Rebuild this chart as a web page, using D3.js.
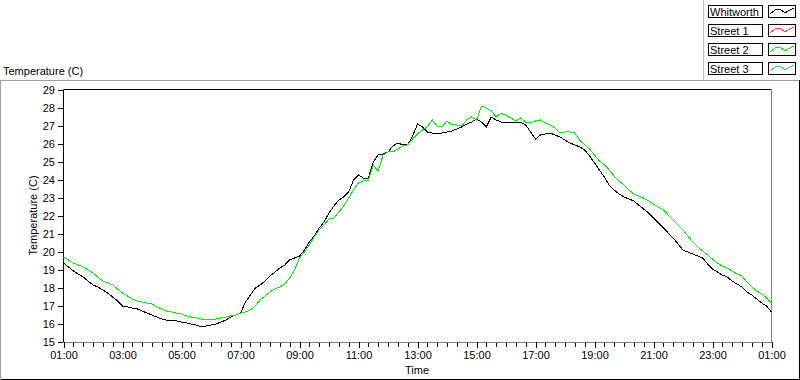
<!DOCTYPE html>
<html><head><meta charset="utf-8">
<script src="https://cdn.jsdelivr.net/npm/d3@7"></script>
<style>
body{margin:0;background:#fff;}
svg{display:block;}
text{font-family:"Liberation Sans",Arial,sans-serif;font-size:11px;fill:#000;}
</style></head><body>
<svg id="c" width="800" height="380"></svg>
<script>
// sampling: every 10 minutes from 01:00 to 01:00 next day
const startTime = "2000-01-01T01:00";
const endTime = "2000-01-02T01:00";
const stepMinutes = 10;

const whitworth = [19.36,19.14,18.92,18.75,18.58,18.36,18.14,18.03,17.86,17.69,17.47,17.25,
16.97,16.92,16.86,16.81,16.69,16.58,16.47,16.36,16.25,16.19,16.14,16.14,
16.08,16.03,15.97,15.92,15.81,15.86,15.92,15.97,16.08,16.19,16.36,16.47,
16.58,17.19,17.58,17.97,18.14,18.36,18.64,18.86,19.08,19.25,19.53,19.64,
19.75,20.08,20.53,20.86,21.31,21.64,22.14,22.53,22.86,23.03,23.31,23.97,
24.25,24.08,24.08,24.97,25.36,25.42,25.53,25.86,26.03,25.92,25.92,26.42,
27.08,26.92,26.64,26.58,26.58,26.58,26.64,26.69,26.81,26.92,27.08,27.19,
27.36,27.19,26.92,27.47,27.31,27.19,27.19,27.14,27.14,27.19,27.03,26.64,
26.25,26.47,26.53,26.58,26.47,26.36,26.19,26.03,25.92,25.81,25.64,25.31,
24.92,24.53,24.14,23.69,23.42,23.19,23.03,22.92,22.81,22.58,22.36,22.14,
21.86,21.58,21.31,21.03,20.75,20.42,20.08,19.97,19.86,19.75,19.64,19.31,
19.03,18.86,18.69,18.58,18.36,18.19,18.03,17.75,17.58,17.36,17.14,16.97,16.64];
const street2 = [19.69,19.53,19.36,19.25,19.14,18.97,18.81,18.58,18.36,18.25,18.14,17.92,
17.69,17.53,17.36,17.25,17.19,17.14,17.08,16.92,16.81,16.69,16.64,16.58,
16.53,16.42,16.36,16.31,16.25,16.25,16.25,16.25,16.31,16.36,16.42,16.47,
16.58,16.64,16.75,16.97,17.31,17.53,17.75,17.92,18.03,18.19,18.53,18.97,
19.64,19.97,20.36,20.81,21.19,21.47,21.81,21.86,22.19,22.53,22.97,23.42,
23.81,23.92,23.97,24.81,24.47,25.36,25.53,25.53,25.69,25.86,25.92,26.25,
26.53,26.75,26.92,27.31,26.97,26.92,27.25,27.03,27.03,26.97,27.31,27.47,
27.31,28.08,27.97,27.81,27.47,27.69,27.58,27.42,27.25,27.42,27.19,27.14,
27.25,27.31,27.14,27.03,26.86,26.58,26.64,26.64,26.58,26.19,25.92,25.69,
25.36,25.03,24.81,24.53,24.19,23.92,23.69,23.42,23.19,23.08,22.97,22.81,
22.64,22.47,22.31,22.03,21.75,21.47,21.19,20.86,20.53,20.25,20.03,19.81,
19.58,19.36,19.19,19.08,18.92,18.75,18.64,18.31,18.03,17.81,17.64,17.42,17.14];

const legendNames = ["Whitworth","Street 1","Street 2","Street 3"];
const legendColors = ["#000000","#ff4040","#00ee00","#30b8ff"];
const yTicks = [15,16,17,18,19,20,21,22,23,24,25,26,27,28,29];
const xMajorHours = 2, xMinorMinutes = 20;
const yTitle = "Temperature (C)";
const xTitle = "Time";

const svg = d3.select("#c");
const t0 = new Date(startTime), t1 = new Date(endTime);
const tEnd = new Date(t1.getTime() + 1);
const times = whitworth.map((_, i) => new Date(t0.getTime() + i * stepMinutes * 60000));

const x = d3.scaleTime().domain([t0, t1]).range([63.5, 771.5]);
const y = d3.scaleLinear().domain([15, 29]).range([341.5, 89.5]);

// outer frame
svg.append("line").attr("x1",0).attr("x2",800).attr("y1",80.5).attr("y2",80.5).attr("stroke","#a0a0a0");
svg.append("line").attr("x1",0.5).attr("x2",0.5).attr("y1",80).attr("y2",380).attr("stroke","#a0a0a0");
svg.append("line").attr("x1",1).attr("x2",800).attr("y1",379.5).attr("y2",379.5).attr("stroke","#000");
svg.append("line").attr("x1",799.5).attr("x2",799.5).attr("y1",80).attr("y2",380).attr("stroke","#000");

// plot borders
svg.append("line").attr("x1",63.5).attr("x2",771.5).attr("y1",89.5).attr("y2",89.5).attr("stroke","#000");
svg.append("line").attr("x1",771.5).attr("x2",771.5).attr("y1",89.5).attr("y2",342.5).attr("stroke","#808080");
svg.append("line").attr("x1",63.5).attr("x2",772).attr("y1",342.5).attr("y2",342.5).attr("stroke","#808080");
svg.append("line").attr("x1",63.5).attr("x2",63.5).attr("y1",89.5).attr("y2",342).attr("stroke","#000");

// y axis
const yAxis = d3.axisLeft(y).tickValues(yTicks).tickSize(5).tickPadding(3).tickFormat(d3.format("d"));
const gy = svg.append("g").attr("transform","translate(63,0)").call(yAxis);
gy.select(".domain").remove();
gy.selectAll("line").attr("stroke","#000").attr("shape-rendering","crispEdges");
gy.selectAll("text").style("font-family","Liberation Sans, Arial, sans-serif").style("font-size","11px");

// x axis minor
const xMinor = d3.axisBottom(x).tickValues(d3.timeMinute.range(t0, tEnd, xMinorMinutes)).tickSize(4).tickFormat("");
const gxm = svg.append("g").attr("transform","translate(0,343)").call(xMinor);
gxm.select(".domain").remove();
gxm.selectAll("line").attr("stroke","#000").attr("shape-rendering","crispEdges");
// x axis major
const xAxis = d3.axisBottom(x).tickValues(d3.timeHour.range(t0, tEnd, xMajorHours)).tickSize(6).tickPadding(3).tickFormat(d3.timeFormat("%H:%M"));
const gx = svg.append("g").attr("transform","translate(0,342)").call(xAxis);
gx.select(".domain").remove();
gx.selectAll("line").attr("stroke","#000").attr("shape-rendering","crispEdges");
gx.selectAll("text").style("font-family","Liberation Sans, Arial, sans-serif").style("font-size","11px");

// titles
svg.append("text").attr("x",3).attr("y",75).text(yTitle);
svg.append("text").attr("transform","translate(37,215.5) rotate(-90)").attr("text-anchor","middle").text(yTitle);
svg.append("text").attr("x",417).attr("y",374).attr("text-anchor","middle").text(xTitle);

// series
const line = d3.line().x((d,i)=>x(times[i])).y(d=>y(d));
svg.append("path").datum(whitworth).attr("d",line).attr("fill","none").attr("stroke",legendColors[0]).attr("stroke-width",1).attr("shape-rendering","crispEdges");
svg.append("path").datum(street2).attr("d",line).attr("fill","none").attr("stroke",legendColors[2]).attr("stroke-width",1).attr("shape-rendering","crispEdges");

// legend
const lg = svg.append("g");
const sampleShape = [[2,9],[7,5],[12,4],[17,8],[22,5],[26,3]];
legendNames.forEach((n,i)=>{
  const ty = 5 + i*19;
  lg.append("rect").attr("x",708.5).attr("y",ty+0.5).attr("width",54).attr("height",12).attr("fill","#fff").attr("stroke","#000");
  lg.append("text").attr("x",710).attr("y",ty+11).text(n);
  lg.append("rect").attr("x",768.5).attr("y",ty+0.5).attr("width",27).attr("height",12).attr("fill","#fff").attr("stroke","#000");
  lg.append("path").attr("d",d3.line()(sampleShape.map(p=>[768+p[0],ty+p[1]]))).attr("fill","none").attr("stroke",legendColors[i]).attr("shape-rendering","crispEdges");
});
lg.append("line").attr("x1",703.5).attr("x2",703.5).attr("y1",0).attr("y2",80).attr("stroke","#c0c0c0");
</script>
</body></html>
